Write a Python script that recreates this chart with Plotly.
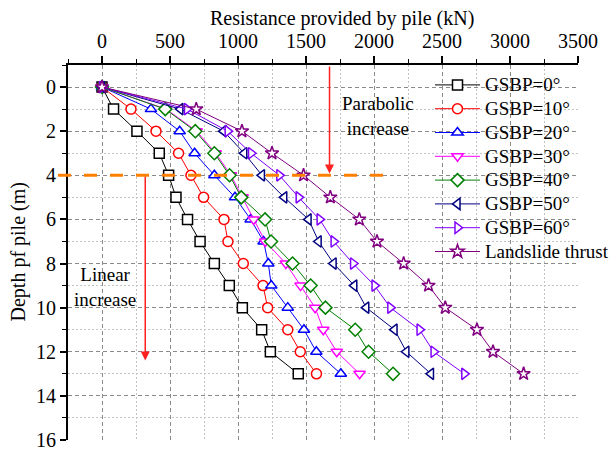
import plotly.graph_objects as go

# Pile depth (m) at each monitored section
depth = list(range(14))

# Resistance provided by the pile (kN) for each ground-surface bedding angle
gsbp_0 = [0, 85, 257, 421, 490, 544, 629, 721, 826, 936, 1032, 1174, 1238, 1443]
gsbp_10 = [0, 213, 397, 563, 654, 747, 897, 926, 1039, 1184, 1218, 1366, 1458, 1577]
gsbp_20 = [0, 360, 571, 681, 826, 978, 1093, 1188, 1223, 1245, 1366, 1485, 1576, 1756]
gsbp_30 = [0, 472, 696, 836, 948, 1034, 1115, 1200, 1352, 1460, 1567, 1627, 1726, 1894]
gsbp_40 = [0, 465, 686, 826, 938, 1024, 1199, 1243, 1401, 1534, 1643, 1862, 1960, 2140]
gsbp_50 = [0, 576, 894, 1046, 1176, 1340, 1519, 1593, 1703, 1855, 1943, 2151, 2238, 2419]
gsbp_60 = [0, 625, 924, 1096, 1304, 1446, 1600, 1703, 1846, 2004, 2120, 2335, 2438, 2664]
landslide_thrust = [0, 693, 1029, 1250, 1482, 1679, 1892, 2022, 2218, 2401, 2524, 2757, 2875, 3100]

series_names = ["GSBP=0°", "GSBP=10°", "GSBP=20°", "GSBP=30°", "GSBP=40°",
                "GSBP=50°", "GSBP=60°", "Landslide thrust"]
series_values = [gsbp_0, gsbp_10, gsbp_20, gsbp_30, gsbp_40, gsbp_50, gsbp_60, landslide_thrust]
series_colors = ["#000000", "#FF0000", "#0000FF", "#FF00FF", "#008000",
                 "#000080", "#8000FF", "#800080"]
series_symbols = ["square", "circle", "triangle-up", "triangle-down", "diamond",
                  "triangle-left", "triangle-right", "star"]

# Depth where the growth of resistance changes character
transition_depth = 4
parabolic_arrow_x = 1673
linear_arrow_x = 318
linear_arrow_end = 12.4

FONT = "Liberation Serif, Times New Roman, Times, serif"

fig = go.Figure()
for name, vals, color, symbol in zip(series_names, series_values, series_colors, series_symbols):
    fig.add_trace(go.Scatter(
        x=vals, y=depth, mode="lines+markers",
        # larger legend text while keeping the compact row spacing of a 16 px legend font
        name=f'<span style="font-size:19px">{name}</span>',
        line=dict(color=color, width=1),
        marker=dict(symbol=symbol, size=10, color="white",
                    line=dict(color=color, width=1.5)),
        cliponaxis=False,
    ))

major_grid = dict(showgrid=True, gridcolor="#8a8a8a", gridwidth=1, griddash="4px,3px")

fig.update_layout(
    width=612, height=452,
    margin=dict(l=68, r=34, t=65, b=12, autoexpand=False),
    paper_bgcolor="white", plot_bgcolor="white",
    font=dict(family=FONT, size=20, color="black"),
    legend=dict(
        x=(430 - 68) / 510, y=(440 - 68) / 375, xanchor="left", yanchor="top",
        bgcolor="rgba(0,0,0,0)", borderwidth=0, itemwidth=45,
        font=dict(family=FONT, size=16, color="black"),
        tracegroupgap=0,
    ),
    xaxis=dict(
        side="top", range=[-250, 3500], tick0=0, dtick=500, automargin=False,
        ticks="outside", ticklen=7, tickwidth=1.5, tickcolor="black",
        showline=True, linecolor="black", linewidth=1.5, zeroline=False,
        tickfont=dict(family=FONT, size=20),
        minor=dict(dtick=250, ticks="outside", ticklen=4, tickwidth=1.2, tickcolor="black",
                   showgrid=True, gridcolor="#c4c4c4", gridwidth=1, griddash="2px,2px"),
        **major_grid,
    ),
    yaxis=dict(
        range=[16, -1], tick0=0, dtick=2, automargin=False,
        ticks="outside", ticklen=6, tickwidth=1.5, tickcolor="black",
        showline=True, linecolor="black", linewidth=2, zeroline=False,
        tickfont=dict(family=FONT, size=20),
        minor=dict(dtick=1, ticks="outside", ticklen=4, tickwidth=1.2, tickcolor="black",
                   showgrid=True, gridcolor="#c4c4c4", gridwidth=1, griddash="2px,2px"),
        **major_grid,
    ),
)

# Axis titles
fig.add_annotation(text="Resistance provided by pile (kN)", xref="paper", yref="paper",
                   x=(342 - 68) / 510, y=(440 - 19) / 375, showarrow=False,
                   font=dict(family=FONT, size=20), xanchor="center", yanchor="middle")
fig.add_annotation(text="Depth pf pile (m)", xref="paper", yref="paper",
                   x=(18 - 68) / 510, y=0.5, showarrow=False, textangle=-90,
                   font=dict(family=FONT, size=20), xanchor="center", yanchor="middle")

# Boundary between the parabolic and linear zones
fig.add_shape(type="line", xref="paper", yref="y",
              x0=(58 - 68) / 510, x1=(385 - 68) / 510,
              y0=transition_depth, y1=transition_depth,
              line=dict(color="#FF8000", width=3, dash="13px,13px"), layer="above")

# Arrows marking the two zones
fig.add_annotation(x=parabolic_arrow_x, y=transition_depth - 0.08, ax=parabolic_arrow_x, ay=-1,
                   xref="x", yref="y", axref="x", ayref="y", text="", showarrow=True,
                   arrowhead=2, arrowsize=1.2, arrowwidth=1.5, arrowcolor="#FF2020", standoff=0)
fig.add_annotation(x=linear_arrow_x, y=linear_arrow_end, ax=linear_arrow_x, ay=transition_depth,
                   xref="x", yref="y", axref="x", ayref="y", text="", showarrow=True,
                   arrowhead=2, arrowsize=1.2, arrowwidth=1.5, arrowcolor="#FF2020", standoff=0)

fig.add_annotation(text="Parabolic<br>increase", x=2030, y=1.3, xref="x", yref="y",
                   showarrow=False, font=dict(family=FONT, size=19), align="center")
fig.add_annotation(text="Linear<br>increase", x=25, y=9.05, xref="x", yref="y",
                   showarrow=False, font=dict(family=FONT, size=19), align="center")

fig.write_html("out.html")
